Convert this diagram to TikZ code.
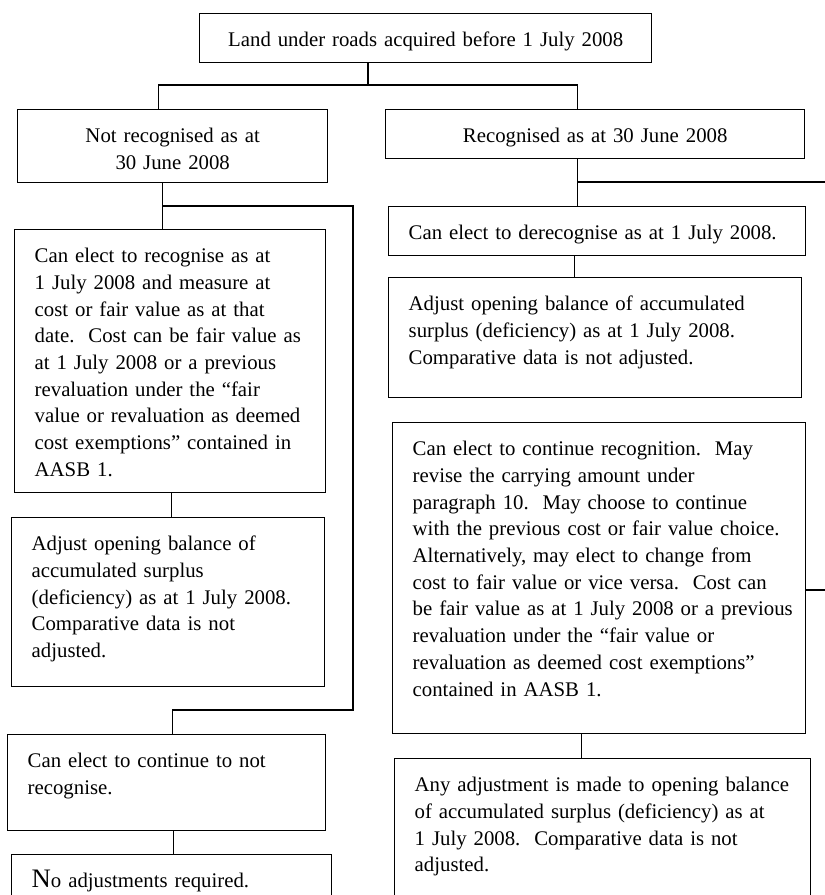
\documentclass[tikz,border=0pt]{standalone}
\usepackage{fontspec}
\setmainfont{Liberation Serif}
\usetikzlibrary{positioning}

\begin{document}
\begin{tikzpicture}[
  x=1pt, y=-1pt,
  font=\fontsize{20.8}{26.7}\selectfont\frenchspacing,
  box/.style={rectangle, draw, line width=1.4pt, anchor=north west, inner ysep=0pt, inner xsep=20pt, text height=33pt, align=left},
  mid/.style={align=center},
  link/.style={line width=1.4pt, black}
  ]
  \useasboundingbox (0,0) rectangle (825,895);

  \node[box, mid, text width=412pt, text depth=16pt] (land) at (199,13) {Land under roads acquired before 1 July 2008};
  \node[box, mid, text width=270pt, text depth=40pt] (notrec) at (17,109) {Not recognised as at\\30 June 2008};
  \node[box, mid, text width=379pt, text depth=16pt] (rec) at (385,109) {Recognised as at 30 June 2008};

  \node[box, text width=271pt, text depth=230pt] (elect) at (14,229) {Can elect to recognise as at\\1 July 2008 and measure at\\cost or fair value as at that\\date.\ \ Cost can be fair value as\\at 1 July 2008 or a previous\\revaluation under the ``fair\\value or revaluation as deemed\\cost exemptions'' contained in\\AASB 1.};
  \node[box, text width=273pt, text depth=136pt] (adjL) at (11,517) {Adjust opening balance of\\accumulated surplus\\(deficiency) as at 1 July 2008.\\Comparative data is not\\adjusted.};
  \node[box, text width=278pt, text depth=63pt] (cont) at (7,734) {Can elect to continue to not\\recognise.};
  \node[box, text width=280pt, text depth=32pt] (noadj) at (11,854) {{\fontsize{26.7}{26.7}\selectfont N}o adjustments required.};

  \node[box, text width=377pt, text depth=16pt] (derec) at (388,206) {Can elect to derecognise as at 1 July 2008.};
  \node[box, text width=373pt, text depth=87pt] (adjR) at (388,277) {Adjust opening balance of accumulated\\surplus (deficiency) as at 1 July 2008.\\Comparative data is not adjusted.};
  \node[box, text width=373pt, text depth=278pt] (contrec) at (392,422) {Can elect to continue recognition.\ \ May\\revise the carrying amount under\\paragraph 10.\ \ May choose to continue\\with the previous cost or fair value choice.\\Alternatively, may elect to change from\\cost to fair value or vice versa.\ \ Cost can\\\mbox{be fair value as at 1 July 2008 or a previous}\\revaluation under the ``fair value or\\revaluation as deemed cost exemptions''\\contained in AASB 1.};
  \node[box, text width=376pt, text depth=128pt] (anyadj) at (394,758) {Any adjustment is made to opening balance\\of accumulated surplus (deficiency) as at\\1 July 2008.\ \ Comparative data is not\\adjusted.};

  \coordinate (split) at (368,85);
  \coordinate (ljoin) at (162,206);
  \coordinate (lrail) at (353,710);
  \coordinate (rjoin) at (577,182);
  \coordinate (rrail) at (845,590);

  \draw[link] (land.south -| split) -- (split);
  \draw[link] ([xshift=-14pt]notrec.north) |- (split) -| ([xshift=-17.5pt]rec.north);
  \draw[link] ([xshift=-10pt]notrec.south) -- ([xshift=-10pt]notrec.south |- elect.north);
  \draw[link] ([xshift=1.5pt]elect.south) -- ([xshift=1.5pt]elect.south |- adjL.north);
  \draw[link] (ljoin) -| (lrail) -| ([xshift=6pt]cont.north);
  \draw[link] ([xshift=6.5pt]cont.south) -- ([xshift=6.5pt]cont.south |- noadj.north);
  \draw[link] ([xshift=-17.5pt]rec.south) -- ([xshift=-17.5pt]rec.south |- derec.north);
  \draw[link] (rjoin) -| (rrail) -- (rrail -| contrec.east);
  \draw[link] ([xshift=-22.5pt]derec.south) -- ([xshift=-22.5pt]derec.south |- adjR.north);
  \draw[link] ([xshift=-17.5pt]contrec.south) -- ([xshift=-17.5pt]contrec.south |- anyadj.north);
\end{tikzpicture}
\end{document}
